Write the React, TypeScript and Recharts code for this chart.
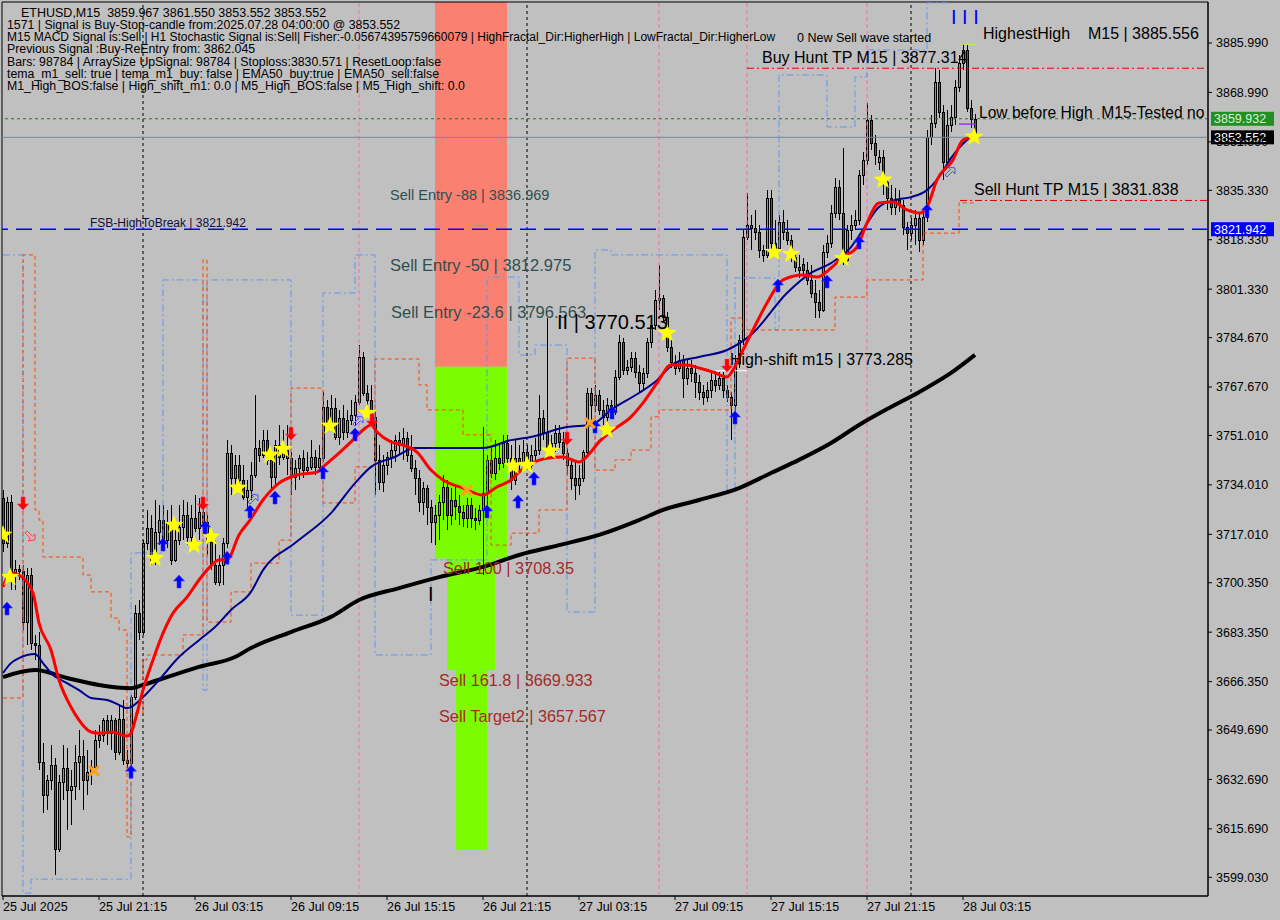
import React from "react";
import {
  ComposedChart,
  Bar,
  Line,
  Scatter,
  XAxis,
  YAxis,
  ReferenceLine,
  ReferenceArea,
} from "recharts";

const FONT = '"Liberation Sans", Arial, sans-serif';
const BULL = "#2ecc71";
const BEAR = "#d0203c";

// ETHUSD M15, one candle per 15 minutes, 25 Jul 15:15 -> 28 Jul 04:00
const OPEN = [
  3729.5, 3714.0, 3728.1, 3704.0, 3705.1, 3704.4, 3686.8, 3703.0, 3679.6, 3678.9,
  3638.7, 3627.3, 3632.5, 3637.6, 3608.7, 3631.8, 3636.6, 3629.0, 3630.4, 3638.7,
  3640.7, 3632.5, 3635.2, 3637.0, 3646.2, 3648.0, 3653.1, 3648.6, 3653.1, 3642.1,
  3653.5, 3639.4, 3638.3, 3661.0, 3689.9, 3683.4, 3714.0, 3719.2, 3708.2, 3717.8,
  3721.9, 3715.0, 3721.2, 3708.2, 3715.0, 3719.5, 3723.6, 3716.1, 3722.6, 3719.2,
  3724.7, 3721.2, 3714.4, 3706.4, 3700.6, 3706.4, 3714.0, 3745.0, 3736.4, 3740.8,
  3735.7, 3729.8, 3732.2, 3737.4, 3746.7, 3744.3, 3749.4, 3742.6, 3736.7, 3747.7,
  3743.6, 3746.0, 3743.2, 3736.7, 3739.8, 3743.2, 3739.1, 3740.2, 3743.6, 3740.2,
  3743.2, 3760.8, 3755.3, 3760.4, 3750.5, 3757.0, 3752.2, 3756.3, 3758.0, 3762.5,
  3778.0, 3765.6, 3763.2, 3757.4, 3742.6, 3735.0, 3740.8, 3743.6, 3746.0, 3749.4,
  3747.7, 3750.1, 3744.3, 3739.8, 3736.4, 3728.1, 3732.9, 3726.4, 3721.2, 3723.6,
  3728.1, 3733.3, 3723.6, 3728.8, 3726.7, 3724.7, 3722.6, 3727.1, 3722.6, 3721.9,
  3725.4, 3731.2, 3742.6, 3738.1, 3743.2, 3741.5, 3748.4, 3743.2, 3735.7, 3743.2,
  3741.5, 3745.3, 3740.8, 3744.3, 3746.0, 3757.0, 3752.2, 3745.3, 3748.4, 3751.8,
  3748.8, 3745.0, 3740.8, 3736.4, 3734.0, 3736.4, 3745.3, 3765.6, 3761.5, 3764.9,
  3759.8, 3757.4, 3761.5, 3759.1, 3771.1, 3783.2, 3773.5, 3774.6, 3777.6, 3772.8,
  3769.0, 3772.5, 3783.2, 3789.0, 3797.6, 3798.3, 3791.8, 3781.4, 3776.3, 3774.2,
  3777.0, 3770.8, 3774.2, 3772.5, 3769.4, 3766.0, 3764.2, 3766.6, 3770.1, 3768.4,
  3770.8, 3766.6, 3764.2, 3761.5, 3775.9, 3783.8, 3819.3, 3823.4, 3822.4, 3821.0,
  3814.8, 3813.1, 3832.7, 3817.2, 3815.5, 3824.4, 3821.0, 3818.2, 3812.4, 3809.0,
  3810.0, 3807.9, 3804.5, 3800.0, 3796.9, 3794.2, 3814.1, 3817.2, 3827.5, 3836.5,
  3827.5, 3811.4, 3821.7, 3823.4, 3825.1, 3840.6, 3845.8, 3859.5, 3851.6, 3845.0,
  3846.8, 3838.2, 3832.7, 3829.6, 3832.0, 3830.3, 3822.7, 3820.6, 3823.4, 3825.8,
  3818.2, 3826.2, 3853.7, 3858.5, 3872.6, 3862.3, 3845.1, 3857.8, 3860.6, 3870.9,
  3879.1, 3883.6, 3863.6, 3859.967,
];
const HIGH = [
  3732.2, 3729.8, 3730.5, 3708.2, 3706.4, 3706.4, 3705.4, 3705.4, 3682.4, 3683.4,
  3645.2, 3634.2, 3644.5, 3640.0, 3634.2, 3644.5, 3643.5, 3635.9, 3644.5, 3649.7,
  3646.2, 3642.8, 3639.4, 3649.7, 3651.4, 3653.8, 3654.8, 3654.8, 3653.8, 3658.3,
  3660.0, 3642.8, 3661.7, 3692.7, 3694.4, 3715.0, 3725.4, 3723.6, 3728.8, 3727.1,
  3727.1, 3725.4, 3727.1, 3720.2, 3727.1, 3728.8, 3728.1, 3727.1, 3730.5, 3729.5,
  3727.1, 3723.6, 3718.5, 3715.0, 3709.9, 3715.7, 3749.4, 3747.7, 3744.3, 3744.3,
  3740.8, 3735.7, 3741.9, 3764.9, 3749.4, 3752.9, 3752.9, 3744.3, 3749.4, 3754.6,
  3752.9, 3754.6, 3745.3, 3742.6, 3744.3, 3746.0, 3745.3, 3749.4, 3746.0, 3747.7,
  3766.0, 3763.2, 3764.9, 3763.9, 3759.8, 3761.5, 3759.8, 3763.2, 3764.9, 3782.1,
  3779.7, 3768.4, 3768.4, 3759.1, 3747.7, 3744.3, 3745.3, 3749.4, 3751.2, 3752.2,
  3753.6, 3752.2, 3751.2, 3742.6, 3739.1, 3735.0, 3734.0, 3728.8, 3727.1, 3730.5,
  3737.4, 3735.7, 3732.9, 3734.0, 3730.5, 3727.1, 3729.5, 3729.5, 3726.0, 3727.1,
  3753.9, 3744.3, 3746.7, 3749.4, 3747.7, 3751.2, 3751.2, 3747.7, 3749.4, 3747.7,
  3749.4, 3747.7, 3747.7, 3750.1, 3764.9, 3759.8, 3791.4, 3751.2, 3754.6, 3754.6,
  3752.2, 3746.7, 3743.2, 3741.9, 3740.8, 3746.0, 3767.3, 3767.3, 3768.4, 3766.6,
  3763.2, 3763.9, 3763.2, 3773.5, 3785.6, 3784.5, 3777.0, 3779.7, 3779.7, 3775.2,
  3774.2, 3784.5, 3791.4, 3801.0, 3809.6, 3799.3, 3793.5, 3783.8, 3778.7, 3779.7,
  3778.7, 3777.0, 3777.0, 3775.2, 3771.8, 3768.4, 3769.4, 3772.8, 3773.5, 3772.8,
  3772.8, 3768.4, 3765.9, 3778.7, 3785.6, 3821.7, 3834.4, 3826.8, 3828.6, 3823.4,
  3816.5, 3835.4, 3835.4, 3825.1, 3826.8, 3828.6, 3825.1, 3820.0, 3814.1, 3813.1,
  3812.0, 3810.7, 3809.6, 3804.5, 3801.0, 3816.5, 3820.0, 3830.3, 3839.6, 3838.9,
  3849.9, 3823.4, 3826.8, 3828.6, 3842.3, 3848.5, 3865.4, 3861.2, 3854.4, 3849.2,
  3849.2, 3838.9, 3837.2, 3836.1, 3835.4, 3832.0, 3824.4, 3825.8, 3828.6, 3827.9,
  3828.6, 3856.1, 3861.2, 3877.4, 3876.7, 3864.7, 3863.0, 3864.7, 3873.3, 3881.9,
  3885.6, 3885.3, 3866.4, 3861.55,
];
const LOW = [
  3710.9, 3712.3, 3697.8, 3697.8, 3701.3, 3684.1, 3678.9, 3677.2, 3673.8, 3635.9,
  3621.1, 3622.2, 3629.0, 3599.8, 3607.7, 3625.6, 3615.3, 3617.0, 3625.6, 3629.0,
  3622.2, 3627.3, 3630.8, 3635.2, 3643.5, 3645.6, 3644.5, 3642.8, 3639.4, 3641.1,
  3637.6, 3636.6, 3635.9, 3660.0, 3680.6, 3682.4, 3711.6, 3706.4, 3706.4, 3713.3,
  3713.3, 3712.3, 3706.4, 3707.5, 3713.3, 3715.0, 3713.3, 3713.3, 3717.8, 3715.0,
  3718.5, 3709.9, 3704.7, 3699.6, 3699.2, 3699.6, 3712.3, 3730.5, 3732.2, 3734.0,
  3728.8, 3725.4, 3728.8, 3736.4, 3741.9, 3743.2, 3740.8, 3732.2, 3734.0, 3740.8,
  3742.6, 3737.4, 3730.5, 3732.2, 3735.7, 3736.4, 3737.4, 3739.1, 3737.4, 3739.1,
  3741.9, 3752.9, 3752.9, 3749.4, 3747.7, 3749.4, 3750.1, 3754.6, 3754.6, 3761.5,
  3764.6, 3759.8, 3756.3, 3730.5, 3732.2, 3731.6, 3737.4, 3739.8, 3741.9, 3744.3,
  3742.6, 3741.9, 3738.4, 3730.5, 3724.7, 3723.6, 3720.2, 3714.0, 3713.3, 3715.0,
  3721.9, 3718.5, 3720.2, 3721.9, 3720.2, 3719.5, 3719.2, 3719.2, 3718.5, 3720.2,
  3703.0, 3723.6, 3736.4, 3735.7, 3739.1, 3739.8, 3741.5, 3732.2, 3734.0, 3739.1,
  3739.8, 3739.1, 3739.1, 3741.9, 3744.3, 3749.4, 3744.3, 3743.2, 3745.3, 3746.7,
  3742.6, 3737.4, 3732.2, 3728.8, 3730.5, 3735.0, 3744.3, 3754.6, 3759.1, 3758.0,
  3754.6, 3755.6, 3757.0, 3758.0, 3770.1, 3771.8, 3771.8, 3772.8, 3770.8, 3766.0,
  3766.6, 3770.8, 3781.1, 3787.3, 3794.2, 3790.0, 3779.7, 3774.2, 3771.8, 3772.8,
  3763.9, 3768.4, 3769.4, 3763.9, 3763.2, 3761.5, 3762.5, 3763.9, 3766.0, 3766.6,
  3763.9, 3762.5, 3749.4, 3759.1, 3774.2, 3782.1, 3818.3, 3814.8, 3818.3, 3812.0,
  3810.7, 3812.0, 3814.8, 3813.1, 3814.1, 3818.3, 3816.5, 3810.7, 3807.2, 3805.2,
  3806.2, 3802.8, 3798.3, 3791.4, 3791.4, 3793.5, 3812.0, 3815.5, 3825.8, 3825.1,
  3809.6, 3810.7, 3818.3, 3821.7, 3823.4, 3837.2, 3844.0, 3849.2, 3844.0, 3842.3,
  3833.7, 3828.6, 3826.8, 3826.8, 3827.9, 3820.0, 3814.8, 3818.3, 3816.5, 3814.1,
  3816.5, 3824.4, 3850.9, 3856.8, 3860.2, 3838.9, 3843.0, 3855.4, 3857.8, 3869.2,
  3876.7, 3862.3, 3856.8, 3853.552,
];
const CLOSE = [
  3714.0, 3728.1, 3704.0, 3705.1, 3704.4, 3686.8, 3703.0, 3679.6, 3678.9, 3638.7,
  3627.3, 3632.5, 3637.6, 3608.7, 3631.8, 3636.6, 3629.0, 3630.4, 3638.7, 3640.7,
  3632.5, 3635.2, 3637.0, 3646.2, 3648.0, 3653.1, 3648.6, 3653.1, 3642.1, 3653.5,
  3639.4, 3638.3, 3661.0, 3689.9, 3683.4, 3714.0, 3719.2, 3708.2, 3717.8, 3721.9,
  3715.0, 3721.2, 3708.2, 3715.0, 3719.5, 3723.6, 3716.1, 3722.6, 3719.2, 3724.7,
  3721.2, 3714.4, 3706.4, 3700.6, 3706.4, 3714.0, 3745.0, 3736.4, 3740.8, 3735.7,
  3729.8, 3732.2, 3737.4, 3746.7, 3744.3, 3749.4, 3742.6, 3736.7, 3747.7, 3743.6,
  3746.0, 3743.2, 3736.7, 3739.8, 3743.2, 3739.1, 3740.2, 3743.6, 3740.2, 3743.2,
  3760.8, 3755.3, 3760.4, 3750.5, 3757.0, 3752.2, 3756.3, 3758.0, 3762.5, 3778.0,
  3765.6, 3763.2, 3757.4, 3742.6, 3735.0, 3740.8, 3743.6, 3746.0, 3749.4, 3747.7,
  3750.1, 3744.3, 3739.8, 3736.4, 3728.1, 3732.9, 3726.4, 3721.2, 3723.6, 3728.1,
  3733.3, 3723.6, 3728.8, 3726.7, 3724.7, 3722.6, 3727.1, 3722.6, 3721.9, 3725.4,
  3731.2, 3742.6, 3738.1, 3743.2, 3741.5, 3748.4, 3743.2, 3735.7, 3743.2, 3741.5,
  3745.3, 3740.8, 3744.3, 3746.0, 3757.0, 3752.2, 3745.3, 3748.4, 3751.8, 3748.8,
  3745.0, 3740.8, 3736.4, 3734.0, 3736.4, 3745.3, 3765.6, 3761.5, 3764.9, 3759.8,
  3757.4, 3761.5, 3759.1, 3771.1, 3783.2, 3773.5, 3774.6, 3777.6, 3772.8, 3769.0,
  3772.5, 3783.2, 3789.0, 3797.6, 3798.3, 3791.8, 3781.4, 3776.3, 3774.2, 3777.0,
  3770.8, 3774.2, 3772.5, 3769.4, 3766.0, 3764.2, 3766.6, 3770.1, 3768.4, 3770.8,
  3766.6, 3764.2, 3761.5, 3775.9, 3783.8, 3819.3, 3823.4, 3822.4, 3821.0, 3814.8,
  3813.1, 3832.7, 3817.2, 3815.5, 3824.4, 3821.0, 3818.2, 3812.4, 3809.0, 3807.9,
  3807.9, 3804.5, 3800.0, 3796.9, 3794.2, 3814.1, 3817.2, 3827.5, 3836.5, 3827.5,
  3811.4, 3821.7, 3823.4, 3825.1, 3840.6, 3845.8, 3859.5, 3851.6, 3847.5, 3846.8,
  3838.2, 3832.7, 3829.6, 3832.0, 3830.3, 3822.7, 3820.6, 3823.4, 3825.8, 3818.2,
  3826.2, 3853.7, 3858.5, 3872.6, 3862.3, 3845.1, 3857.8, 3860.6, 3870.9, 3879.1,
  3883.6, 3863.6, 3859.967, 3853.552,
];

// moving averages: [bar, price]
const RED_EMA = [
  [0, 3698.9], [2, 3703.7], [4, 3703.0], [7.5, 3696.8], [9, 3686.5], [12, 3677.2], [14, 3666.9],
  [17, 3657.6], [19, 3653.1], [22, 3649.0], [24, 3648.6], [27.5, 3649.0], [31, 3647.6], [32, 3648.6],
  [33.5, 3655.5], [35, 3663.4], [37.5, 3673.8], [40, 3683.0], [42.5, 3689.9], [46, 3695.4],
  [49, 3701.3], [51.75, 3705.8], [54, 3708.2], [56, 3708.2], [59, 3716.8], [61.75, 3721.9],
  [65, 3728.8], [69, 3734.6], [73.5, 3737.4], [78.5, 3738.4], [80, 3740.2], [83.5, 3744.3],
  [87, 3748.8], [90, 3752.9], [92, 3754.6], [93.5, 3752.2], [97, 3748.8], [100, 3747.7],
  [103.5, 3745.3], [107, 3739.1], [110, 3735.7], [115, 3732.9], [120, 3730.5], [123.5, 3733.3],
  [127, 3735.7], [129, 3738.4], [136, 3743.2], [140, 3743.6], [144, 3741.9], [146.75, 3745.0],
  [149, 3748.8], [152.5, 3752.9], [157, 3757.4], [160, 3762.2], [163.5, 3769.0], [167, 3775.2],
  [171, 3775.2], [174, 3774.2], [177.5, 3772.8], [181, 3771.1], [182.5, 3773.5], [185, 3780.4],
  [187.5, 3787.3], [191, 3796.6], [195, 3804.5], [200, 3806.2], [203.5, 3805.5], [207, 3808.6],
  [210, 3812.4], [213.5, 3815.8], [216, 3824.1], [219, 3831.0], [222.5, 3831.3], [226, 3828.6],
  [229.25, 3827.5], [231, 3829.6], [233.5, 3838.9], [237.5, 3845.8], [240, 3852.6], [242.5, 3853.7],
];
const BLUE_EMA = [
  [0, 3669.3], [2, 3672.7], [4, 3674.4], [8, 3675.8], [10, 3672.7], [12, 3669.3], [16, 3665.8],
  [19, 3663.4], [22, 3660.7], [26, 3660.0], [28, 3659.0], [31, 3657.2], [32, 3657.6], [35, 3661.0],
  [39, 3666.9], [44, 3674.8], [49, 3680.6], [53, 3685.1], [57, 3691.0], [62, 3697.2], [65, 3704.7],
  [73, 3714.0], [82, 3724.3], [88, 3734.6], [92, 3740.2], [98, 3743.6], [103, 3746.7], [110, 3746.7],
  [117, 3746.7], [120, 3746.7], [127, 3749.4], [132, 3750.5], [141, 3753.9], [147, 3754.6],
  [152, 3759.8], [159, 3765.6], [163, 3769.4], [168, 3775.9], [174, 3778.0], [181, 3780.4],
  [187, 3785.6], [196, 3800.0], [202, 3806.9], [207, 3810.3], [212, 3815.8], [215, 3821.7],
  [219, 3829.6], [223, 3832.0], [227, 3833.0], [231, 3835.4], [234, 3839.9], [237, 3846.4],
  [241, 3852.6], [242, 3853.7],
];
const BLACK_EMA = [
  [0, 3667.9], [8, 3670.3], [16, 3667.6], [24, 3665.2], [32, 3664.1], [35, 3665.2], [41, 3667.9],
  [49, 3671.4], [58, 3674.8], [62, 3677.9], [72, 3683.4], [82, 3688.6], [89, 3694.4], [99, 3698.5],
  [109, 3702.3], [120, 3705.8], [129, 3709.9], [139, 3713.3], [149, 3716.8], [159, 3721.9],
  [165, 3725.4], [174, 3728.8], [184, 3732.9], [192, 3738.1], [199, 3742.6], [207, 3748.4],
  [214, 3754.6], [222, 3760.8], [229, 3765.9], [237, 3772.5], [243, 3778.7],
];
// stepped channel lines, value from that bar on: [bar, price]
const BLUE_STEP = [
  [0, 3813.1], [5, 3593.6], [7, 3598.4], [32, 3710.6], [40, 3804.5], [50, 3663.4], [51, 3804.5],
  [72, 3689.2], [80, 3800.0], [88, 3813.1], [93, 3675.5], [107, 3708.2], [121, 3805.5],
  [129, 3778.7], [133, 3782.1], [141, 3690.3], [148, 3814.8], [152, 3813.1], [181, 3732.2],
  [183, 3805.2], [193, 3787.3], [194, 3875.0], [206, 3857.1], [213, 3874.3], [216, 3883.6],
  [231, 3899.8], [236, 3899.8],
];
const ORANGE_STEP = [
  [0, 3660.7], [5, 3813.1], [8, 3725.4], [9, 3721.9], [10, 3709.2], [20, 3703.0], [22, 3697.2],
  [27, 3688.2], [29, 3684.1], [31, 3612.9], [32, 3655.5], [35, 3673.8], [36, 3675.5], [45, 3682.4],
  [50, 3811.4], [51, 3686.8], [57, 3697.2], [62, 3707.1], [69, 3715.0], [72, 3767.3], [80, 3727.8],
  [88, 3740.2], [93, 3777.3], [104, 3768.4], [106, 3759.8], [115, 3751.2], [122, 3713.3],
  [127, 3717.4], [134, 3725.4], [141, 3777.6], [148, 3739.1], [153, 3742.6], [157, 3746.0],
  [162, 3757.4], [164, 3759.8], [182, 3791.4], [185, 3787.3], [208, 3798.6], [216, 3804.5],
  [230, 3820.6], [239, 3831.0], [243, 3831.0],
];

// signal marks: [bar, price]
const BUY_ARROWS = [
  [1, 3691.3], [32, 3635.2], [40, 3713.3], [44, 3700.6], [50.5, 3719.2], [56, 3708.8],
  [61.75, 3724.7], [68, 3729.5], [80, 3738.1], [88, 3751.2], [121, 3724.7], [128.75, 3728.1],
  [132.75, 3736.0], [148, 3753.9], [152.25, 3758.7], [183, 3757.0], [193.75, 3802.4],
  [206, 3803.8], [214, 3817.2], [231, 3828.2],
];
const SELL_ARROWS = [[5, 3727.8], [50, 3727.8], [72, 3751.8], [92.25, 3756.3], [141, 3750.1], [181, 3775.2]];
const STARS = [
  [0, 3716.8], [1.75, 3702.3], [38, 3708.8], [42.75, 3720.2], [47.75, 3713.3], [52, 3716.1],
  [58.75, 3733.0], [66.75, 3744.3], [70, 3746.3], [81.75, 3754.3], [91, 3758.7], [127.5, 3740.5],
  [131, 3740.8], [136.75, 3745.7], [151, 3752.9], [166, 3786.2], [192.75, 3814.1], [197, 3813.4],
  [210, 3812.0], [220, 3838.9], [242.75, 3853.7],
];
const CROSSES = [[22.75, 3635.6], [116, 3732.2], [146.75, 3755.3]];
const HOLLOW_UP = [[62.5, 3728.8], [88.75, 3755.6], [236.75, 3841.3]];
const HOLLOW_DOWN = [[6.75, 3716.8]];

// levels
const FSB_HIGH = 3821.942;
const LOW_BEFORE_HIGH = 3859.932;
const LAST_PRICE = 3853.552;
const BUY_HUNT_TP = 3877.314;
const SELL_HUNT_TP = 3831.838;
const HIGHEST_HIGH = 3885.556;
const HIGH_SHIFT = 3773.285;
const LOW_MARK = 3858.1;

// zones: [x1, x2, y1, y2]
const SELL_ZONE = [108, 126, 3774.6, 3900.1];
const TARGET_ZONES = [
  [108, 126, 3708.8, 3774.6],
  [111, 123, 3670.3, 3708.8],
  [113.25, 121, 3608.4, 3670.3],
];

const DAY_BREAKS = [35, 131, 227];
const SIGNAL_BARS = [89, 164, 186, 216];

const TIME_TICKS = [0, 24, 48, 72, 96, 120, 144, 168, 192, 216, 240];
const TIME_LABELS = [
  "25 Jul 2025", "25 Jul 21:15", "26 Jul 03:15", "26 Jul 09:15", "26 Jul 15:15", "26 Jul 21:15",
  "27 Jul 03:15", "27 Jul 09:15", "27 Jul 15:15", "27 Jul 21:15", "28 Jul 03:15",
];
const PRICE_TICKS = [
  3885.99, 3868.99, 3851.99, 3835.33, 3818.33, 3801.33, 3784.67, 3767.67, 3751.01, 3734.01,
  3717.01, 3700.35, 3683.35, 3666.35, 3649.69, 3632.69, 3615.69, 3599.03,
];

const HEADER = [
  "1571 | Signal is Buy-Stop-candle from:2025.07.28 04:00:00 @ 3853.552",
  "M15 MACD Signal is:Sell | H1 Stochastic Signal is:Sell| Fisher:-0.05674395759660079 | HighFractal_Dir:HigherHigh | LowFractal_Dir:HigherLow",
  "Previous Signal :Buy-ReEntry from: 3862.045",
  "Bars: 98784 | ArraySize UpSignal: 98784 | Stoploss:3830.571 | ResetLoop:false",
  "tema_m1_sell: true | tema_m1_buy: false | EMA50_buy:true | EMA50_sell:false",
  "M1_High_BOS:false | High_shift_m1: 0.0 | M5_High_BOS:false | M5_High_shift: 0.0",
];

const candles = OPEN.map((o, i) => ({
  i,
  o,
  h: HIGH[i],
  l: LOW[i],
  c: CLOSE[i],
  range: [LOW[i], HIGH[i]],
}));
const pts = (arr: number[][]) => arr.map(([i, p]) => ({ i, p }));

function Candle(props: any) {
  const { x, y, width, height, payload } = props;
  if (!payload || x == null || y == null) return null;
  const { o, c, h, l } = payload;
  const span = h - l || 1e-9;
  const toY = (v: number) => y + ((h - v) / span) * height;
  const cx = Math.round(x + width / 2);
  const top = Math.round(toY(Math.max(o, c)));
  let bot = Math.round(toY(Math.min(o, c)));
  if (bot - top < 2) bot = top + 2;
  return (
    <g shapeRendering="crispEdges">
      <rect x={cx} y={Math.round(y)} width={1} height={Math.max(Math.round(height), 1)} fill="#000" />
      <rect x={cx - 1} y={top} width={3} height={bot - top + 1} fill="#000" />
      <rect x={cx} y={top + 1} width={1} height={bot - top - 1} fill={c >= o ? BULL : BEAR} />
    </g>
  );
}

const UpArrow = ({ cx, cy }: any) => (
  <path
    d={`M${cx},${cy - 7} L${cx + 5.5},${cy - 1} L${cx + 2},${cy - 1} L${cx + 2},${cy + 6} L${cx - 2},${cy + 6} L${cx - 2},${cy - 1} L${cx - 5.5},${cy - 1} Z`}
    fill="#0000ff"
    stroke="#3a3aff"
    strokeWidth={0.6}
  />
);
const DownArrow = ({ cx, cy }: any) => (
  <path
    d={`M${cx},${cy + 7} L${cx + 5.5},${cy + 1} L${cx + 2},${cy + 1} L${cx + 2},${cy - 6} L${cx - 2},${cy - 6} L${cx - 2},${cy + 1} L${cx - 5.5},${cy + 1} Z`}
    fill="#ff0000"
    stroke="#ff3355"
    strokeWidth={0.6}
  />
);
const Star = ({ cx, cy }: any) => {
  const d: string[] = [];
  for (let k = 0; k < 10; k++) {
    const r = k % 2 === 0 ? 10 : 4.2;
    const a = -Math.PI / 2 + (k * Math.PI) / 5;
    d.push(`${k === 0 ? "M" : "L"}${cx + r * Math.cos(a)},${cy + r * Math.sin(a)}`);
  }
  return <path d={d.join(" ") + " Z"} fill="#ffff00" />;
};
const Cross = ({ cx, cy }: any) => (
  <g stroke="#ff9f1a" strokeWidth={3}>
    <line x1={cx - 5} y1={cy - 5} x2={cx + 5} y2={cy + 5} />
    <line x1={cx - 5} y1={cy + 5} x2={cx + 5} y2={cy - 5} />
  </g>
);
const HollowUp = ({ cx, cy }: any) => (
  <path
    d={`M${cx + 5},${cy - 5} L${cx + 5},${cy + 1} L${cx + 2.5},${cy - 1.5} L${cx - 3},${cy + 4} L${cx - 5},${cy + 2} L${cx + 0.5},${cy - 3.5} L${cx - 2},${cy - 6} Z`}
    fill="none"
    stroke="#4b4bff"
    strokeWidth={1}
  />
);
const HollowDown = ({ cx, cy }: any) => (
  <path
    d={`M${cx + 5},${cy + 5} L${cx + 5},${cy - 1} L${cx + 2.5},${cy + 1.5} L${cx - 3},${cy - 4} L${cx - 5},${cy - 2} L${cx + 0.5},${cy + 3.5} L${cx - 2},${cy + 6} Z`}
    fill="none"
    stroke="#ff4040"
    strokeWidth={1}
  />
);

function PriceTag(props: any) {
  const { viewBox, text, bg, color } = props;
  if (!viewBox) return null;
  const x = viewBox.x + viewBox.width + 3;
  const y = viewBox.y;
  return (
    <g>
      <rect x={x} y={y - 7} width={63} height={14} fill={bg} />
      <text x={x + 3} y={y + 4.5} fill={color} fontSize={12.5} fontFamily={FONT}>
        {text}
      </text>
    </g>
  );
}

const TimeTick = (props: any) => {
  const { x, y, payload } = props;
  const idx = TIME_TICKS.indexOf(payload.value);
  return (
    <text x={x} y={y + 9} fill="#000" fontSize={12.5} fontFamily={FONT} textAnchor="start">
      {TIME_LABELS[idx]}
    </text>
  );
};

export default function App() {
  const txt = { fontFamily: FONT };
  return (
    <div style={{ position: "absolute", left: 0, top: 0, width: 1280, height: 920, background: "#c0c0c0" }}>
      <ComposedChart
        width={1280}
        height={920}
        data={candles}
        margin={{ top: 2, right: 0, bottom: 0, left: 2 }}
      >
        <XAxis
          type="number"
          dataKey="i"
          domain={[-0.25, 301.25]}
          allowDataOverflow
          ticks={TIME_TICKS}
          interval={0}
          height={24}
          tickSize={4}
          tickMargin={2}
          axisLine={{ stroke: "#000" }}
          tickLine={{ stroke: "#000" }}
          tick={<TimeTick />}
        />
        <YAxis
          orientation="right"
          type="number"
          domain={[3592.6, 3900.1]}
          allowDataOverflow
          ticks={PRICE_TICKS}
          interval={0}
          width={72}
          tickSize={4}
          tickMargin={4}
          axisLine={{ stroke: "#000" }}
          tickLine={{ stroke: "#000" }}
          tickFormatter={(v: number) => v.toFixed(3)}
          tick={{ fill: "#000", fontSize: 12.5, fontFamily: FONT }}
        />

        <ReferenceArea
          x1={SELL_ZONE[0]}
          x2={SELL_ZONE[1]}
          y1={SELL_ZONE[2]}
          y2={SELL_ZONE[3]}
          fill="#fa8072"
          fillOpacity={1}
          stroke="none"
          ifOverflow="hidden"
        />
        {TARGET_ZONES.map((z, k) => (
          <ReferenceArea
            key={`tz${k}`}
            x1={z[0]}
            x2={z[1]}
            y1={z[2]}
            y2={z[3]}
            fill="#7cfc00"
            fillOpacity={1}
            stroke="none"
            ifOverflow="hidden"
          />
        ))}

        {DAY_BREAKS.map((b) => (
          <ReferenceLine key={`d${b}`} x={b} stroke="#000" strokeDasharray="3 3" />
        ))}
        {SIGNAL_BARS.map((b) => (
          <ReferenceLine key={`s${b}`} x={b} stroke="#ff69b4" strokeDasharray="4 3" />
        ))}

        <ReferenceLine
          y={LOW_BEFORE_HIGH}
          stroke="#1e7a1e"
          strokeDasharray="3 3"
          label={<PriceTag text="3859.932" bg="#239023" color="#d8f0d8" />}
        />
        <ReferenceLine
          y={LAST_PRICE}
          stroke="#778899"
          label={<PriceTag text="3853.552" bg="#000" color="#fff" />}
        />
        <ReferenceLine
          y={FSB_HIGH}
          stroke="#0000ff"
          strokeWidth={1.5}
          strokeDasharray="16 8"
          label={<PriceTag text="3821.942" bg="#0000ff" color="#fff" />}
        />
        <ReferenceLine
          segment={[{ x: 186, y: BUY_HUNT_TP }, { x: 301.25, y: BUY_HUNT_TP }]}
          stroke="#e00000"
          strokeDasharray="7 3 2 3"
        />
        <ReferenceLine
          segment={[{ x: 239.25, y: SELL_HUNT_TP }, { x: 301.25, y: SELL_HUNT_TP }]}
          stroke="#e00000"
          strokeDasharray="7 3 2 3"
        />
        <ReferenceLine segment={[{ x: 240, y: HIGHEST_HIGH }, { x: 243, y: HIGHEST_HIGH }]} stroke="#adff2f" />
        <ReferenceLine segment={[{ x: 239, y: LOW_MARK }, { x: 243, y: LOW_MARK }]} stroke="#9b30ff" strokeWidth={1.5} />
        <ReferenceLine segment={[{ x: 178, y: HIGH_SHIFT }, { x: 186, y: HIGH_SHIFT }]} stroke="#ffffff" />

        <Line
          data={pts(BLUE_STEP)}
          dataKey="p"
          type="stepAfter"
          stroke="#6495ed"
          strokeDasharray="7 3 2 3"
          dot={false}
          isAnimationActive={false}
        />
        <Line
          data={pts(ORANGE_STEP)}
          dataKey="p"
          type="stepAfter"
          stroke="#ff4500"
          strokeDasharray="4 3"
          dot={false}
          isAnimationActive={false}
        />

        <Bar dataKey="range" barSize={3} shape={<Candle />} isAnimationActive={false} />

        <Line data={pts(BLACK_EMA)} dataKey="p" type="monotone" stroke="#000" strokeWidth={4} dot={false} isAnimationActive={false} />
        <Line data={pts(BLUE_EMA)} dataKey="p" type="monotone" stroke="#00008b" strokeWidth={2} dot={false} isAnimationActive={false} />
        <Line data={pts(RED_EMA)} dataKey="p" type="monotone" stroke="#ff0000" strokeWidth={3} dot={false} isAnimationActive={false} />

        <Scatter data={pts(STARS)} dataKey="p" shape={<Star />} isAnimationActive={false} />
        <Scatter data={pts(BUY_ARROWS)} dataKey="p" shape={<UpArrow />} isAnimationActive={false} />
        <Scatter data={pts(SELL_ARROWS)} dataKey="p" shape={<DownArrow />} isAnimationActive={false} />
        <Scatter data={pts(CROSSES)} dataKey="p" shape={<Cross />} isAnimationActive={false} />
        <Scatter data={pts(HOLLOW_UP)} dataKey="p" shape={<HollowUp />} isAnimationActive={false} />
        <Scatter data={pts(HOLLOW_DOWN)} dataKey="p" shape={<HollowDown />} isAnimationActive={false} />

        <ReferenceArea
          x1={-0.25}
          x2={301.25}
          y1={3592.6}
          y2={3900.1}
          fill="none"
          stroke="#000"
          ifOverflow="visible"
        />
      </ComposedChart>

      <svg
        width={1280}
        height={920}
        style={{ position: "absolute", left: 0, top: 0, pointerEvents: "none" }}
      >
        <defs>
          <clipPath id="plotClip">
            <rect x={2} y={2} width={1206} height={894} />
          </clipPath>
        </defs>
        <g {...txt} fill="#000">
          <text x={21} y={17} fontSize={12.5} xmlSpace="preserve">ETHUSD,M15  3859.967 3861.550 3853.552 3853.552</text>
          {HEADER.map((line, k) => (
            <text key={k} x={7} y={29.2 + k * 12.1} fontSize={k === 1 ? 12 : 12.3} xmlSpace="preserve">
              {line}
            </text>
          ))}
          <text x={797} y={42} fontSize={12.5}>0 New Sell wave started</text>
          <text x={90} y={227} fontSize={12} fill="#101040">FSB-HighToBreak | 3821.942</text>
        </g>
        <g {...txt} fill="#2f4f4f">
          <text x={390} y={200} fontSize={14.5}>Sell Entry -88 | 3836.969</text>
          <text x={390} y={271} fontSize={16.5}>Sell Entry -50 | 3812.975</text>
          <text x={391} y={318} fontSize={16.5}>Sell Entry -23.6 | 3796.563</text>
        </g>
        <g {...txt} fill="#a52a2a" fontSize={16.3}>
          <text x={443} y={574}>Sell 100 | 3708.35</text>
          <text x={439} y={686}>Sell 161.8 | 3669.933</text>
          <text x={439} y={722}>Sell Target2 | 3657.567</text>
        </g>
        <g {...txt} fill="#000" clipPath="url(#plotClip)">
          <text x={557} y={329} fontSize={20} xmlSpace="preserve">II | 3770.513</text>
          <text x={428} y={601} fontSize={20}>I</text>
          <text x={730} y={365} fontSize={16}>High-shift m15 | 3773.285</text>
          <text x={762} y={63} fontSize={16}>Buy Hunt TP M15 | 3877.314</text>
          <text x={983} y={39} fontSize={16} xmlSpace="preserve">HighestHigh    M15 | 3885.556</text>
          <text x={979} y={118} fontSize={15.6} xmlSpace="preserve">Low before High  M15-Tested no</text>
          <text x={974} y={195} fontSize={16}>Sell Hunt TP M15 | 3831.838</text>
          <text x={951} y={24} fontSize={20} fill="#0000ff" xmlSpace="preserve">I I I</text>
        </g>
      </svg>
    </div>
  );
}
